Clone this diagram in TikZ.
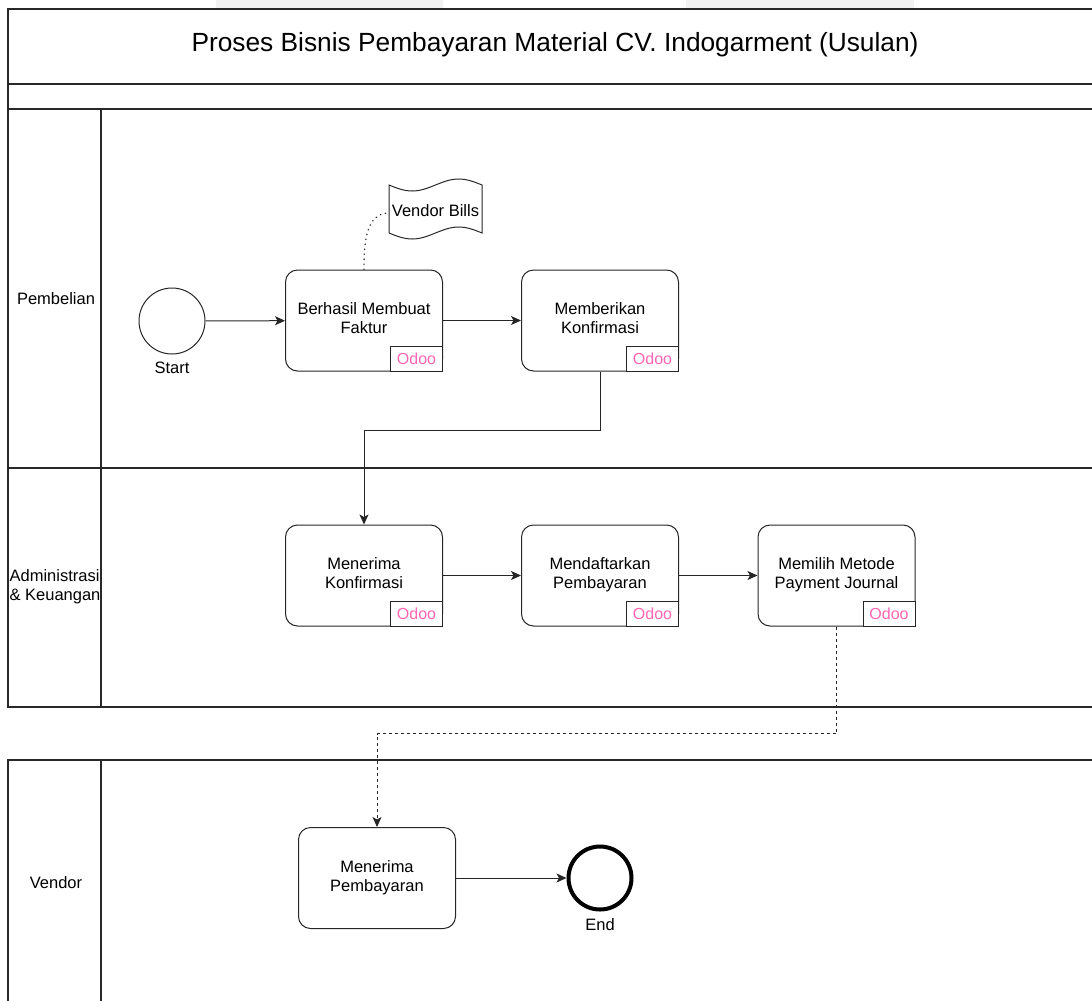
\documentclass[tikz,border=0pt]{standalone}
\usepackage{fontspec}
\setmainfont{Liberation Sans}
\usetikzlibrary{arrows.meta,positioning,calc}
\definecolor{odoopink}{RGB}{255,102,179}
\definecolor{lanecol}{RGB}{40,40,40}
\definecolor{patch}{RGB}{242,242,242}
\tikzset{
  lane/.style={draw=lanecol,line width=1.2pt},
  proc/.style={draw=black!85,line width=1pt,rounded corners=12pt,minimum width=157pt,minimum height=101pt,align=center,font=\fontsize{16.5}{19}\selectfont,inner sep=0pt,text depth=4pt},
  odoo/.style={draw=black!85,line width=1pt,fill=white,minimum width=52pt,minimum height=25pt,inner sep=0pt,text=odoopink,font=\fontsize{16}{19}\selectfont,anchor=south east},
  evstart/.style={circle,draw=black!85,line width=1pt,minimum size=66pt,inner sep=0pt},
  evend/.style={circle,draw=black,line width=4pt,minimum size=63pt,inner sep=0pt},
  lbl/.style={font=\fontsize{16.5}{19}\selectfont,inner sep=0pt},
  flow/.style={draw=black!85,line width=1pt,-{Stealth[length=10pt,width=9pt,inset=2.5pt]}},
  msg/.style={flow,dash pattern=on 3pt off 3pt},
}
\begin{document}
\begin{tikzpicture}[x=1pt,y=-1pt]
\useasboundingbox (0,0) rectangle (1092,1001);
% faint patches at top
\fill[patch] (216,0) rectangle (443,8);
\fill[patch] (686,0) rectangle (914,8);
% pool frame
\draw[lane] (1100,9) -- (8,9) -- (8,707) -- (1100,707);
\draw[lane] (8,84) -- (1100,84);
\draw[lane] (8,109) -- (1100,109);
\draw[lane] (8,468) -- (1100,468);
\draw[lane] (101,109) -- (101,707);
\draw[lane] (8,1010) -- (8,760) -- (1100,760);
\draw[lane] (101,760) -- (101,1010);
% titles
\node[font=\fontsize{26.3}{30}\selectfont,inner sep=0pt] (title) at (555,45) {Proses Bisnis Pembayaran Material CV. Indogarment (Usulan)};
\node[lbl] (l1) at (56,299) {Pembelian};
\node[lbl,align=left] (l2) at (55,587) {Administrasi\\\& Keuangan};
\node[lbl] (l3) at (56,883) {Vendor};
% nodes
\node[evstart] (start) at (172,321) {};
\node[lbl] (startl) at (172,368) {Start};
\node[proc] (b1) at (364,320.5) {Berhasil Membuat\\Faktur};
\node[odoo] (o1) at (b1.south east) {Odoo};
\node[proc] (b2) at (600,320.5) {Memberikan\\Konfirmasi};
\node[odoo] (o2) at (b2.south east) {Odoo};
\node[proc] (b3) at (364,575.5) {Menerima\\Konfirmasi};
\node[odoo] (o3) at (b3.south east) {Odoo};
\node[proc] (b4) at (600,575.5) {Mendaftarkan\\Pembayaran};
\node[odoo] (o4) at (b4.south east) {Odoo};
\node[proc] (b5) at (836.5,575.5) {Memilih Metode\\Payment Journal};
\node[odoo] (o5) at (b5.south east) {Odoo};
\node[proc] (b6) at (377,878) {Menerima\\Pembayaran};
\node[evend] (end) at (600,878) {};
\node[lbl] (endl) at (600,925) {End};
% vendor bills document (tape)
\draw[draw=black!85,line width=1pt,fill=white] (389,185) sin (412.25,191) cos (435.5,185) sin (458.75,179) cos (482,185)
  -- (482,233) sin (458.75,227) cos (435.5,233) sin (412.25,239) cos (389,233) -- cycle;
\node[lbl] (vb) at (435.5,211) {Vendor Bills};
\coordinate (vbw) at (389,213);
% connectors
\draw[black!80,line width=1.3pt,line cap=round,dash pattern=on 0.5pt off 4.5pt] (b1.north) to[out=90,in=180] (vbw);
\draw[flow] (start) -- (b1);
\draw[flow] (b1) -- (b2);
\draw[flow] (b2.south) -- ++(0,59) -| (b3.north);
\draw[flow] (b3) -- (b4);
\draw[flow] (b4) -- (b5);
\draw[msg] (b5.south) -- ++(0,107) -| (b6.north);
\draw[flow] (b6) -- (end);
\end{tikzpicture}
\end{document}
